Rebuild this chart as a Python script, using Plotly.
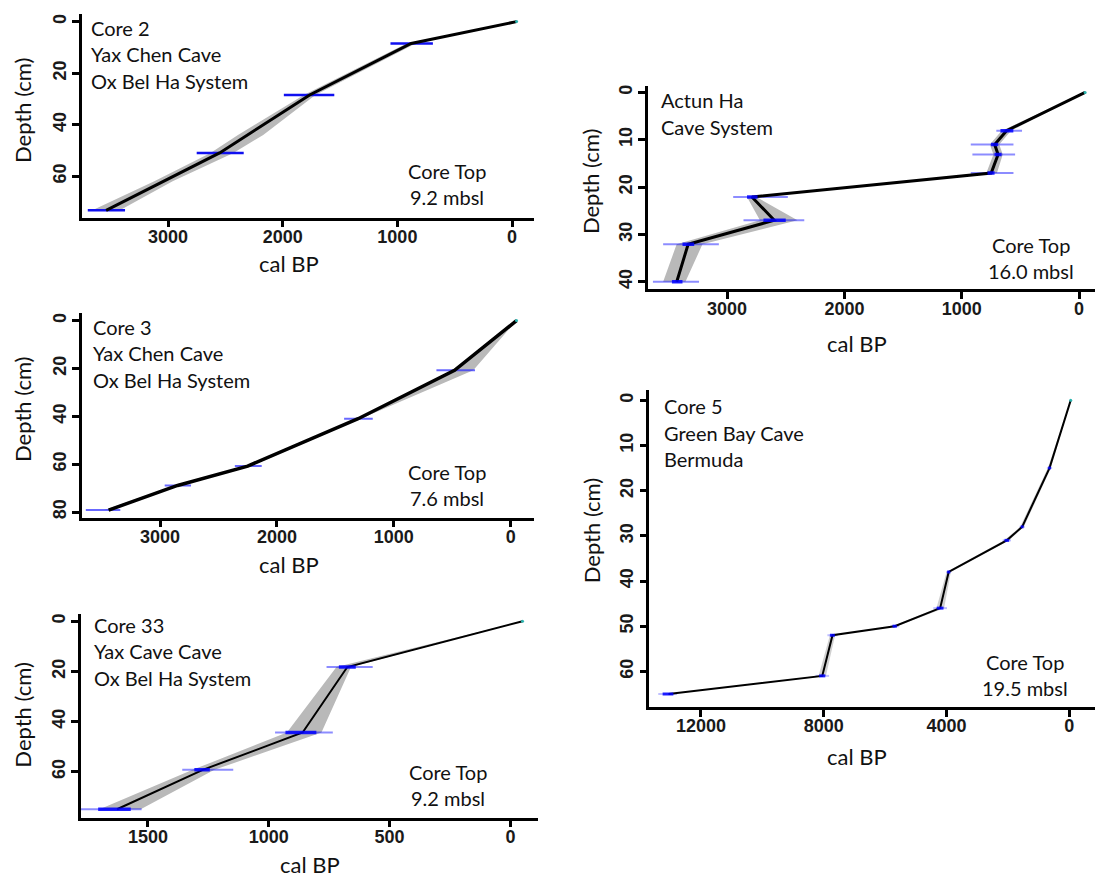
import plotly.graph_objects as go

W, H = 1095, 878

# ---------------- data ----------------
# Core 2, Yax Chen Cave
c2_depth = [0, 8.5, 28.5, 51, 73.3]
c2_age = [-40, 880, 1765, 2550, 3540]
c2_err_young = [690, 1550, 2340, 3375]
c2_err_old = [1060, 1990, 2750, 3700]
c2_band_depth = [0, 8.5, 28.5, 44, 51, 62, 73.3]
c2_band_old = [-35, 920, 1815, 2390, 2630, 3120, 3660]
c2_band_young = [-45, 840, 1715, 2170, 2430, 2960, 3420]

# Core 3, Yax Chen Cave
c3_depth = [0, 20.8, 41, 60.8, 68.9, 79.2]
c3_age = [-50, 480, 1305, 2250, 2850, 3440]
c3_err_young = [305, 1180, 2130, 2735, 3340]
c3_err_old = [635, 1425, 2360, 2960, 3635]
c3_band_old = [-50, 500, 1325, 2275, 2875, 3480]
c3_band_young = [-50, 320, 1285, 2225, 2830, 3410]

# Core 33, Yax Cave Cave
c33_depth = [0, 18.3, 44.4, 59.3, 75.0]
c33_age = [-50, 675, 860, 1273, 1628]
c33_err_young = [570, 735, 1147, 1526]
c33_err_old = [761, 974, 1358, 1820]
c33_core_young = [640, 803, 1244, 1571]
c33_core_old = [710, 931, 1308, 1706]
c33_band_old = [-50, 720, 925, 1315, 1700]
c33_band_young = [-50, 660, 782, 1225, 1530]

# Actun Ha Cave System
ah_depth = [0, 8.1, 11, 13.1, 17.05, 22.1, 27, 32.1, 40]
ah_age = [-52, 618, 719, 690, 749, 2788, 2598, 3332, 3429]
ah_err_young = [486, 559, 545, 559, 2482, 2342, 3070, 3239]
ah_err_old = [705, 923, 909, 923, 2948, 2860, 3545, 3632]
ah_core_young = [560, 690, 660, 720, 2740, 2500, 3280, 3380]
ah_core_old = [670, 750, 720, 780, 2830, 2690, 3380, 3470]
ah_band_old = [-52, 660, 760, 730, 790, 2830, 2720, 3430, 3545]
ah_band_young = [-52, 580, 680, 650, 700, 2750, 2400, 3210, 3355]

# Core 5, Green Bay Cave, Bermuda
c5_depth = [0, 15, 28, 31, 38, 46, 50, 52, 61, 65]
c5_age = [-45, 646, 1536, 2037, 3930, 4208, 5689, 7715, 8049, 13058]
c5_err_young = [560, 1450, 1900, 3850, 3985, 5544, 7548, 7826, 12780]
c5_err_old = [730, 1620, 2170, 4010, 4431, 5822, 7882, 8271, 13392]
c5_core_young = [600, 1490, 1960, 3880, 4100, 5620, 7640, 7950, 12900]
c5_core_old = [690, 1580, 2110, 3980, 4320, 5760, 7800, 8150, 13250]
c5_band_old = [-45, 700, 1600, 2120, 4000, 4330, 5760, 7800, 8170, 13100]
c5_band_young = [-45, 600, 1480, 1960, 3860, 4080, 5620, 7630, 7930, 13000]

# tick values
p1_xticks = [3000, 2000, 1000, 0]; p1_yticks = [0, 20, 40, 60]
p2_xticks = [3000, 2000, 1000, 0]; p2_yticks = [0, 20, 40, 60, 80]
p3_xticks = [1500, 1000, 500, 0]; p3_yticks = [0, 20, 40, 60]
p4_xticks = [3000, 2000, 1000, 0]; p4_yticks = [0, 10, 20, 30, 40]
p5_xticks = [12000, 8000, 4000, 0]; p5_yticks = [0, 10, 20, 30, 40, 50, 60]

labels1 = ["Core 2", "Yax Chen Cave", "Ox Bel Ha System"]
labels2 = ["Core 3", "Yax Chen Cave", "Ox Bel Ha System"]
labels3 = ["Core 33", "Yax Cave Cave", "Ox Bel Ha System"]
labels4 = ["Actun Ha", "Cave System"]
labels5 = ["Core 5", "Green Bay Cave", "Bermuda"]
tops = ["9.2 mbsl", "7.6 mbsl", "9.2 mbsl", "16.0 mbsl", "19.5 mbsl"]

# ---------------- layout geometry (pixels) ----------------
def fx(p):
    return p / W

def fy(p):
    return 1 - p / H

panels = [
    dict(xd=(81.7, 533.8), yd=(13.3, 217.3), xr=(3753, -190), yr=(76.1, -2.86),
         xt=p1_xticks, yt=p1_yticks),
    dict(xd=(81.5, 533.8), yd=(313.3, 518.3), xr=(3672, -198), yr=(82.3, -3.08),
         xt=p2_xticks, yt=p2_yticks),
    dict(xd=(81.0, 538.0), yd=(615.0, 819.3), xr=(1777, -114), yr=(78.3, -2.9),
         xt=p3_xticks, yt=p3_yticks),
    dict(xd=(648.0, 1095.0), yd=(85.0, 289.3), xr=(3674, -136), yr=(41.6, -1.41),
         xt=p4_xticks, yt=p4_yticks),
    dict(xd=(649.3, 1095.0), yd=(390.0, 708.3), xr=(13684, -837), yr=(67.86, -2.36),
         xt=p5_xticks, yt=p5_yticks),
]

fig = go.Figure()

BAND = "#b9b9b9"


def add_core(i, depth, age, band_depth, band_old, band_young, err_y, err_o,
             core_y=None, core_o=None, lw=3, band_col=BAND, err_col="rgba(0,0,255,0.45)",
             err_w=2, core_w=3.5):
    xa = "x" if i == 0 else "x%d" % (i + 1)
    ya = "y" if i == 0 else "y%d" % (i + 1)
    fig.add_trace(go.Scatter(
        x=list(band_old) + list(band_young)[::-1],
        y=list(band_depth) + list(band_depth)[::-1],
        fill="toself", fillcolor=band_col, mode="lines",
        line=dict(width=0, color=band_col), hoverinfo="skip",
        xaxis=xa, yaxis=ya, showlegend=False))
    ex, ey = [], []
    for d, a, b in zip(depth[1:], err_y, err_o):
        ex += [a, b, None]
        ey += [d, d, None]
    fig.add_trace(go.Scatter(x=ex, y=ey, mode="lines",
                             line=dict(color=err_col, width=err_w),
                             xaxis=xa, yaxis=ya, showlegend=False))
    fig.add_trace(go.Scatter(x=age, y=depth, mode="lines",
                             line=dict(color="black", width=lw),
                             xaxis=xa, yaxis=ya, showlegend=False))
    if core_y is not None:
        cx, cy = [], []
        for d, a, b in zip(depth[1:], core_y, core_o):
            cx += [a, b, None]
            cy += [d, d, None]
        fig.add_trace(go.Scatter(x=cx, y=cy, mode="lines",
                                 line=dict(color="rgba(0,0,255,0.85)", width=core_w),
                                 xaxis=xa, yaxis=ya, showlegend=False))
    fig.add_trace(go.Scatter(x=[age[0]], y=[depth[0]], mode="markers",
                             marker=dict(color="#2bb5b0", size=3),
                             xaxis=xa, yaxis=ya, showlegend=False))


add_core(0, c2_depth, c2_age, c2_band_depth, c2_band_old, c2_band_young,
         c2_err_young, c2_err_old, lw=3, err_col="#1010f0", err_w=2.5)
add_core(1, c3_depth, c3_age, c3_depth, c3_band_old, c3_band_young,
         c3_err_young, c3_err_old, lw=3.5, err_col="rgba(40,40,255,0.7)", err_w=2)
add_core(2, c33_depth, c33_age, c33_depth, c33_band_old, c33_band_young,
         c33_err_young, c33_err_old, c33_core_young, c33_core_old, lw=2)
add_core(3, ah_depth, ah_age, ah_depth, ah_band_old, ah_band_young,
         ah_err_young, ah_err_old, ah_core_young, ah_core_old, lw=3)
add_core(4, c5_depth, c5_age, c5_depth, c5_band_old, c5_band_young,
         c5_err_young, c5_err_old, c5_core_young, c5_core_old, lw=2,
         band_col="#d0d0d0", err_col="rgba(0,0,255,0.25)", core_w=3)

TICKFONT = dict(family="Liberation Sans, Arial, sans-serif", size=18, color="#1a1a1a", weight="bold")
TEXTFONT = "Lato, Open Sans, sans-serif"

layout = dict(width=W, height=H, margin=dict(l=0, r=0, t=0, b=0),
              paper_bgcolor="white", plot_bgcolor="white", showlegend=False)

for i, p in enumerate(panels):
    xk = "xaxis" if i == 0 else "xaxis%d" % (i + 1)
    yk = "yaxis" if i == 0 else "yaxis%d" % (i + 1)
    xa = "x" if i == 0 else "x%d" % (i + 1)
    ya = "y" if i == 0 else "y%d" % (i + 1)
    layout[xk] = dict(domain=[fx(p["xd"][0]), fx(p["xd"][1])], range=list(p["xr"]),
                      anchor=ya, showline=True, linecolor="black", linewidth=2.5,
                      ticks="outside", ticklen=7, tickwidth=2.5, tickcolor="black",
                      tickvals=p["xt"], ticktext=[str(v) for v in p["xt"]],
                      showgrid=False, zeroline=False, tickfont=TICKFONT,
                      ticklabelstandoff=-6)
    layout[yk] = dict(domain=[fy(p["yd"][1]), fy(p["yd"][0])], range=list(p["yr"]),
                      anchor=xa, showline=True, linecolor="black", linewidth=2.5,
                      ticks="outside", ticklen=7, tickwidth=2.5, tickcolor="black",
                      tickvals=p["yt"], ticktext=[str(v) for v in p["yt"]],
                      showgrid=False, zeroline=False, tickfont=TICKFONT,
                      tickangle=-90, ticklabelstandoff=-1)

fig.update_layout(**layout)

ann = []


def text(x, y, s, size=20, xanchor="left", angle=0):
    ann.append(dict(x=fx(x), y=fy(y), xref="paper", yref="paper", text=s,
                    showarrow=False, xanchor=xanchor, yanchor="middle", textangle=angle,
                    font=dict(family=TEXTFONT, size=size, color="#111111")))


for (x0, ys, labs) in [
    (89.0, [27.3, 53.3, 80.0], labels1),
    (91.3, [327.3, 353.3, 380.0], labels2),
    (92.3, [626.0, 652.7, 679.3], labels3),
    (659.0, [99.3, 126.0], labels4),
    (661.7, [406.7, 433.3, 459.3], labels5),
]:
    for yy, s in zip(ys, labs):
        text(x0, yy, s)

for (cx, cy), t in zip([(447, 170.7), (447, 472.7), (447.5, 773.3), (1030.8, 245.0), (1025.2, 663.3)], tops):
    text(cx, cy, "Core Top", xanchor="center")
    text(cx, cy + 26.3, t, xanchor="center")

for (cx, cy) in [(289.3, 263.3), (288.6, 565.0), (310.0, 866.0), (856.8, 343.3), (856.8, 758.3)]:
    text(cx, cy, "cal BP", size=22, xanchor="center")
for (cx, cy) in [(22.4, 110.0), (22.4, 410.0), (22.4, 716.7), (590.0, 181.7), (591.4, 531.7)]:
    text(cx, cy, "Depth (cm)", size=22, xanchor="center", angle=-90)

fig.update_layout(annotations=ann)

fig.write_html("out.html", config={"displayModeBar": False},
               post_script="document.body.style.margin='0';document.body.style.overflow='hidden';")
